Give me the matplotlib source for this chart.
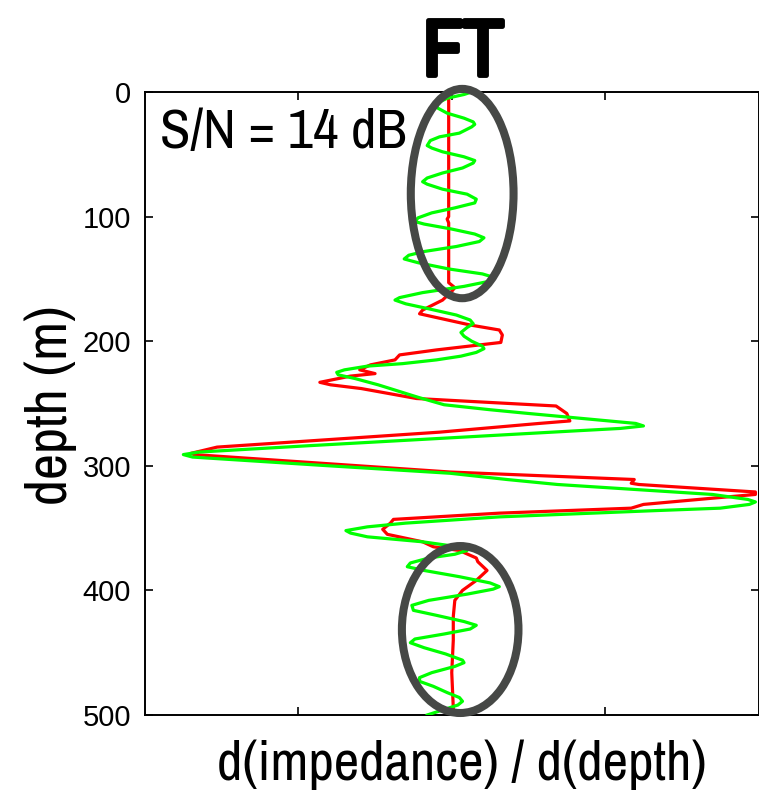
import numpy as np
import matplotlib
matplotlib.use("Agg")
import matplotlib.pyplot as plt
from matplotlib import font_manager
import matplotlib.patheffects as pe
from matplotlib.patches import Ellipse

# depth (m) and d(impedance)/d(depth)
red_depth = [0, 3, 50, 100, 102, 105, 153, 157, 160, 167, 175, 178, 181, 187, 191,
             195, 201, 203, 207, 211, 215, 219, 223, 226, 228, 233, 235, 238, 246,
             252, 258, 264, 266, 273, 285, 290, 291, 305, 311, 314, 315, 321, 323,
             326, 331, 334, 338, 343, 346, 351, 355, 361, 365, 368, 374, 377, 384,
             392, 400, 408, 421, 440, 466, 494, 500]
red_val = [0.00, -0.02, -0.02, -0.02, -0.03, -0.02, -0.02, 0.02, 0.00, -0.06, -0.19,
           -0.21, -0.10, 0.12, 0.31, 0.33, 0.32, 0.18, -0.10, -0.34, -0.37, -0.53,
           -0.60, -0.50, -0.66, -0.86, -0.79, -0.59, -0.23, 0.68, 0.75, 0.77, 0.57,
           -0.08, -1.53, -1.70, -1.68, -0.01, 1.19, 1.17, 1.22, 1.98, 1.98, 1.70,
           1.25, 1.17, 0.31, -0.38, -0.40, -0.45, -0.42, -0.19, -0.12, 0.05, 0.16,
           0.17, 0.23, 0.16, 0.07, 0.02, 0.01, 0.01, 0.00, 0.01, 0.01]

green_depth = [0, 2, 5, 8, 11, 13, 17, 21, 24, 26, 28, 33, 36, 39, 43, 45, 48, 52,
               55, 57, 61, 65, 69, 72, 74, 78, 82, 86, 89, 93, 97, 101, 104, 106,
               110, 114, 117, 120, 124, 128, 131, 134, 137, 142, 146, 149, 152, 156,
               161, 165, 167, 170, 174, 179, 183, 186, 189, 193, 196, 200, 204, 206,
               209, 212, 215, 218, 220, 223, 225, 227, 230, 235, 240, 245, 251, 255,
               258, 262, 266, 268, 270, 272, 278, 284, 289, 291, 293, 300, 306, 311,
               315, 319, 323, 327, 329, 331, 334, 336, 341, 346, 349, 352, 354, 357,
               361, 365, 368, 371, 374, 378, 381, 384, 389, 394, 397, 399, 403, 408,
               412, 416, 420, 425, 428, 431, 435, 439, 442, 446, 451, 456, 458, 461,
               466, 470, 473, 477, 482, 486, 489, 492, 496, 500]
green_val = [0.13, 0.08, -0.03, -0.08, -0.10, -0.09, -0.03, 0.08, 0.14, 0.15, 0.13,
             0.05, -0.08, -0.14, -0.16, -0.13, -0.06, 0.08, 0.15, 0.14, 0.07, -0.06,
             -0.16, -0.19, -0.16, -0.06, 0.10, 0.16, 0.15, 0.02, -0.13, -0.22, -0.24,
             -0.18, 0.00, 0.15, 0.21, 0.18, 0.03, -0.18, -0.28, -0.31, -0.22, -0.02,
             0.20, 0.28, 0.24, 0.08, -0.19, -0.34, -0.37, -0.30, -0.15, 0.03, 0.12,
             0.14, 0.10, 0.06, 0.08, 0.13, 0.20, 0.21, 0.16, 0.06, -0.10, -0.32,
             -0.55, -0.70, -0.75, -0.74, -0.63, -0.48, -0.35, -0.22, -0.05, 0.25,
             0.50, 0.85, 1.20, 1.25, 1.10, 0.80, -0.08, -0.95, -1.65, -1.75, -1.69,
             -0.80, -0.01, 0.36, 0.69, 1.19, 1.70, 1.93, 1.98, 1.94, 1.75, 1.32,
             0.31, -0.30, -0.55, -0.69, -0.66, -0.55, -0.19, 0.04, 0.10, 0.02, -0.15,
             -0.27, -0.29, -0.18, 0.05, 0.25, 0.31, 0.27, 0.10, -0.15, -0.26, -0.25,
             -0.10, 0.08, 0.16, 0.12, -0.05, -0.24, -0.27, -0.18, -0.04, 0.07, 0.08,
             0.02, -0.13, -0.21, -0.21, -0.12, -0.03, 0.05, 0.07, 0.04, -0.06, -0.16]

depth_ticks = [0, 100, 200, 300, 400, 500]

# pick a narrow grotesque if one is installed
have = {f.name for f in font_manager.fontManager.ttflist}
narrow_pick = [n for n in ['Liberation Sans Narrow', 'Nimbus Sans Narrow', 'Arial Narrow',
                           'Archivo Narrow', 'Roboto Condensed', 'Open Sans Condensed']
               if n in have]
narrow = narrow_pick[:1] + ['Liberation Sans', 'DejaVu Sans']

fig = plt.figure(figsize=(7.59, 7.98), dpi=100)
ax = fig.add_axes([145 / 759, 83 / 798, 613.5 / 759, 623 / 798])

ax.plot(red_val, red_depth, color='#ff0000', lw=2.3, zorder=2,
        solid_joinstyle='round')
ax.plot(green_val, green_depth, color='#00ff00', lw=2.3, zorder=3,
        solid_joinstyle='round')

# circled regions
for c, w, h in [((0.068, 81.5), 0.67, 168), ((0.055, 431.4), 0.76, 134)]:
    ax.add_patch(Ellipse(c, w, h, fill=False, ec='#464846', lw=5.8,
                         zorder=4, clip_on=False))

ax.set_xlim(-2, 2)
ax.set_ylim(500, 0)
ax.set_xticks([-1, 0, 1])
ax.set_xticklabels([])
ax.set_yticks(depth_ticks)
ax.set_yticklabels([str(t) for t in depth_ticks],
                   fontdict={'family': ['Liberation Sans', 'DejaVu Sans'], 'size': 21})
ax.tick_params(direction='in', length=6, width=1.2, top=True, right=True, pad=10)
for s in ax.spines.values():
    s.set_linewidth(1.4)

ax.set_xlabel('d(impedance) / d(depth)', family=narrow, fontsize=40)
ax.xaxis.set_label_coords(0.517, -0.04)
ax.set_ylabel('depth (m)', family=narrow, fontsize=41)
ax.yaxis.set_label_coords(-0.111, 0.497)
title = ax.set_title('FT', family=narrow, fontsize=58, fontweight='bold',
                     x=0.518, y=1.027, pad=0)
title.set_path_effects([pe.withStroke(linewidth=3.5, foreground='black')])
ax.text(0.024, 0.91, 'S/N = 14 dB', transform=ax.transAxes, family=narrow,
        fontsize=40, va='baseline', ha='left')

fig.savefig('out.png', dpi=100)
